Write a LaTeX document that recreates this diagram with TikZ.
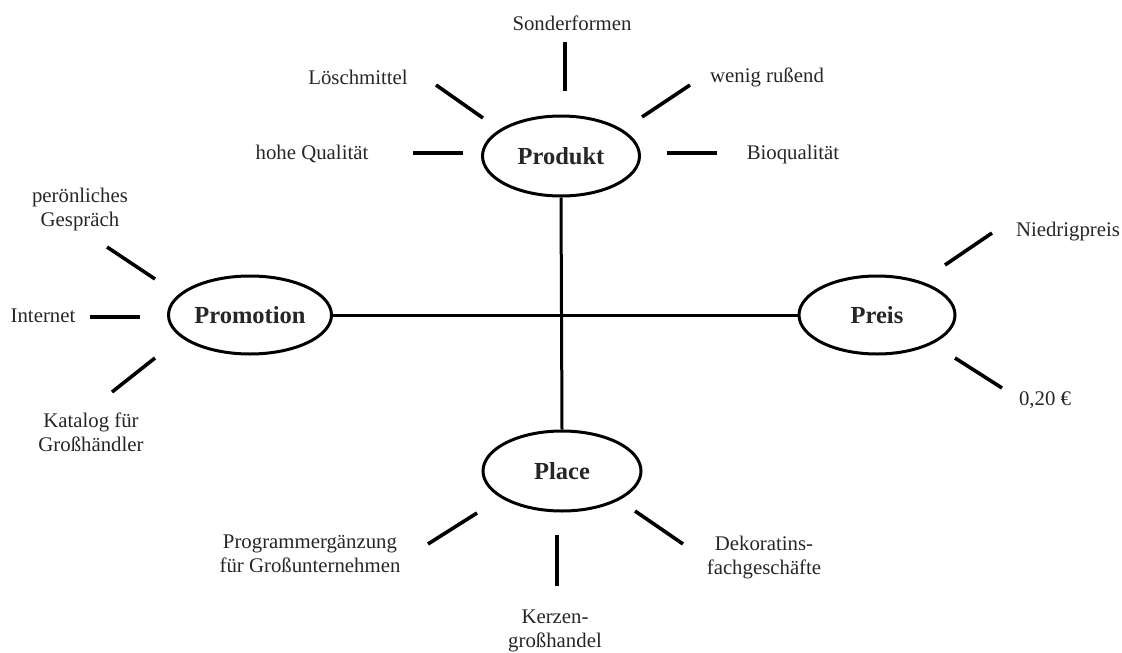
\documentclass[tikz,border=0pt]{standalone}
\usepackage{fontspec}
\setmainfont{Liberation Serif}
\usetikzlibrary{shapes.geometric}
\begin{document}
\begin{tikzpicture}[x=1pt,y=-1pt,
  hub/.style={draw, ellipse, line width=3pt, inner sep=0pt,
    font=\fontsize{24.5}{28}\selectfont\bfseries, text=black!85},
  lbl/.style={align=center, inner sep=0pt, font=\fontsize{20.8}{24}\selectfont, text=black!85},
  spoke/.style={line width=3.6pt},
  axis/.style={line width=3pt}]
\useasboundingbox (0,0) rectangle (1122,653);
% hubs
\node[hub, minimum width=157pt, minimum height=80pt] (prod) at (561,156) {Produkt};
\node[hub, minimum width=163pt, minimum height=78pt] (promo) at (250,315) {Promotion};
\node[hub, minimum width=156pt, minimum height=78pt] (preis) at (877,315) {Preis};
\node[hub, minimum width=158pt, minimum height=80pt] (place) at (562,471) {Place};
% axes
\draw[axis] (prod.south) -- (place.north);
\draw[axis] (promo.east) -- (preis.west);
% labels
\node[lbl] (sonder) at (572,23) {Sonderformen};
\node[lbl] (loesch) at (358,77) {Löschmittel};
\node[lbl] (wenig) at (767,77) {wenig rußend};
\node[lbl] (hohe) at (312,154) {hohe Qualität};
\node[lbl] (bio) at (793,154) {Bioqualität};
\node[lbl] (persoen) at (80,209) {perönliches\\Gespräch};
\node[lbl] (internet) at (43,316) {Internet};
\node[lbl] (katalog) at (91,432) {Katalog für\\Großhändler};
\node[lbl] (niedrig) at (1068,232) {Niedrigpreis};
\node[lbl] (cent) at (1045,400) {0,20 €};
\node[lbl] (programm) at (310,554) {Programmergänzung\\für Großunternehmen};
\node[lbl] (kerzen) at (555,631) {Kerzen-\\großhandel};
\node[lbl] (dekor) at (764,558) {Dekoratins-\\fachgeschäfte};
% spoke end points
\coordinate (s1a) at (565,42);  \coordinate (s1b) at (565,91);
\coordinate (s2a) at (436,85);  \coordinate (s2b) at (483,118);
\coordinate (s3a) at (690,85);  \coordinate (s3b) at (642,117);
\coordinate (s4a) at (413,153); \coordinate (s4b) at (463,153);
\coordinate (s5a) at (667,153); \coordinate (s5b) at (717,153);
\coordinate (s6a) at (107,247); \coordinate (s6b) at (155,279);
\coordinate (s7a) at (90,317);  \coordinate (s7b) at (140,317);
\coordinate (s8a) at (155,358); \coordinate (s8b) at (112,392);
\coordinate (s9a) at (945,265); \coordinate (s9b) at (992,233);
\coordinate (s10a) at (955,358); \coordinate (s10b) at (1002,388);
\coordinate (s11a) at (477,513); \coordinate (s11b) at (428,544);
\coordinate (s12a) at (557,535); \coordinate (s12b) at (557,586);
\coordinate (s13a) at (635,511); \coordinate (s13b) at (683,544);
% spokes
\foreach \i in {1,...,13} \draw[spoke] (s\i a) -- (s\i b);
\end{tikzpicture}
\end{document}
